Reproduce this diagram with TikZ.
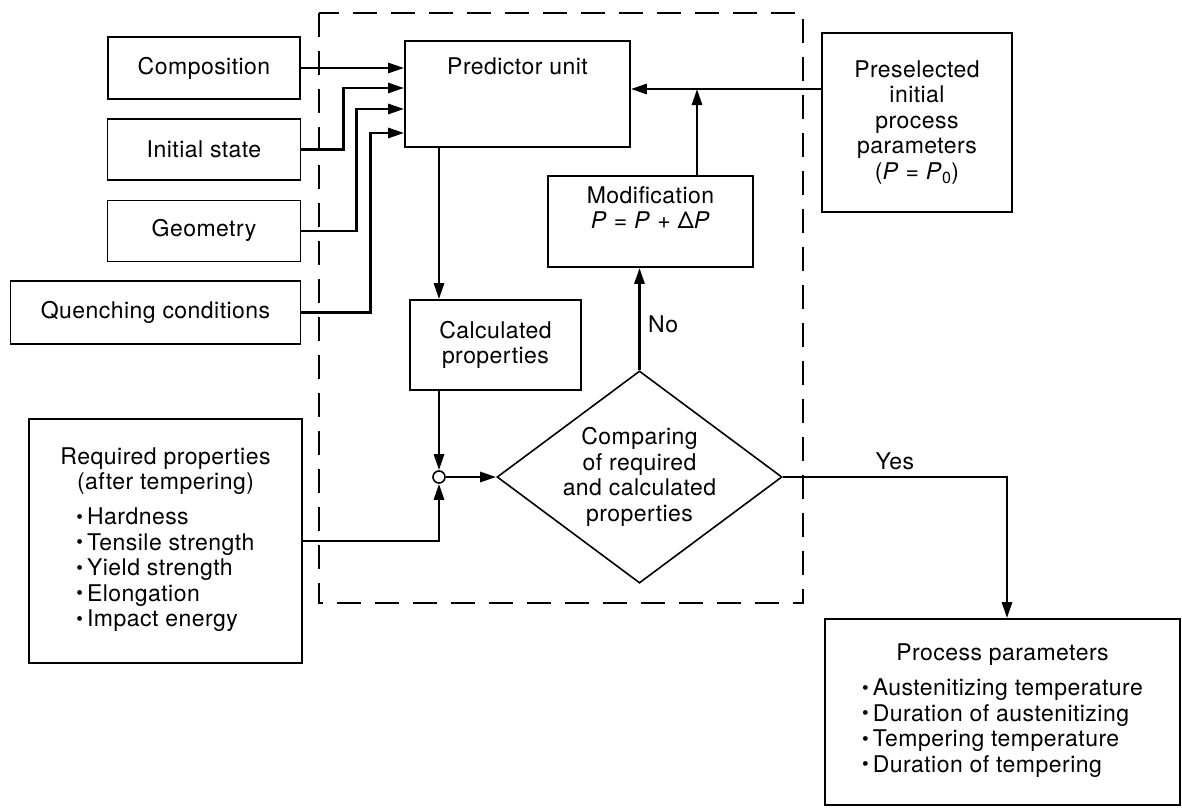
\documentclass[tikz,border=0pt]{standalone}
\usepackage{fontspec}
\setmainfont{TeX Gyre Heros}[LetterSpace=2]
\usetikzlibrary{shapes.geometric,arrows.meta,positioning}

\newcommand{\itm}{\raisebox{1.5pt}{\fontsize{19}{19}\selectfont\textbullet}\hspace{4pt}}

\begin{document}
\begin{tikzpicture}[x=1pt,y=-1pt,>={Triangle[length=16pt,width=10pt]}]
	\tikzstyle{every node}=[font=\fontsize{23}{25.5}\selectfont]
	\tikzstyle{box}=[draw,line width=1.7pt,align=center]
	\tikzstyle{flow}=[->,line width=2.8pt]
	\useasboundingbox (0,0) rectangle (1182,808);
	% the predictor loop
	\draw[line width=1.6pt,dash pattern=on 24pt off 14pt] (319,13) rectangle (803,603);
	% input data
	\node[box,minimum width=192pt,minimum height=62pt] (comp) at (204,68) {Composition};
	\node[box,minimum width=193pt,minimum height=61pt,below=18pt of comp] (init) {Initial state};
	\node[box,minimum width=193pt,minimum height=61pt,below=19pt of init] (geom) {Geometry};
	\node[box,minimum width=290pt,minimum height=63pt,below=18pt of geom.south east,anchor=north east] (quench) {Quenching conditions};
	\node[box,minimum width=273pt,minimum height=244pt] (req) at (165.5,541) {Required properties\\(after tempering)\\[11pt]
		\begin{tabular}{@{}l@{}}\itm Hardness\\\itm Tensile strength\\\itm Yield strength\\\itm Elongation\\\itm Impact energy\end{tabular}};
	% calculation
	\node[box,minimum width=225pt,minimum height=106pt,label={[anchor=north,yshift=-14pt]north:Predictor unit}] (pred) at (517.5,94) {};
	\node[box,minimum width=171pt,minimum height=90pt] (calc) at (495.5,345) {Calculated\\properties};
	\node[circle,draw,line width=1.6pt,fill=white,minimum size=12pt,inner sep=0pt] (jn) at (439,477) {};
	\node[diamond,draw,line width=1.6pt,align=center,inner sep=-10pt,minimum width=285pt,minimum height=202pt] (cmp) at (639.5,477) {Comparing\\of required\\and calculated\\properties};
	\node[box,minimum width=205pt,minimum height=91pt,text depth=28pt] (mod) at (650.5,221.5) {Modification\\\textit{P} = \textit{P} + Δ\textit{P}};
	\node[box,minimum width=190pt,minimum height=179pt] (pre) at (917,122.5) {Preselected\\initial\\process\\parameters\\(\textit{P} = \textit{P}\textsubscript{0})};
	% result
	\node[box,minimum width=355pt,minimum height=186pt] (proc) at (1002.5,712) {Process parameters\\[11pt]
		\begin{tabular}{@{}l@{}}\itm Austenitizing temperature\\\itm Duration of austenitizing\\\itm Tempering temperature\\\itm Duration of tempering\end{tabular}};
	\coordinate (mj) at (697,89);
	% connections
	\draw[flow] (comp.east) -- (comp.east -| pred.west);
	\draw[flow] (init.east) -- ++(42,0) |- ([yshift=6pt]pred.west);
	\draw[flow] (geom.east) -- ++(55.5,0) |- ([yshift=-15pt]pred.west);
	\draw[flow] (quench.east) -- ++(69,0) |- ([yshift=-39pt]pred.west);
	\draw[flow] (pred.south -| jn) -- (calc.north -| jn);
	\draw[flow] (calc.south -| jn) -- (jn.north);
	\draw[flow] (req.east) -| (jn.south);
	\draw[flow] (jn.east) -- (cmp.west);
	\draw[flow] (cmp.north) -- (cmp.north |- mod.south) node[pos=0.45,right=4pt] {No};
	\draw[flow] (mod.north -| mj) -- (mj);
	\draw[flow] (pre.west |- mj) -- (pred.east |- mj);
	\draw[flow] (cmp.east) -| ([xshift=4.5pt]proc.north) node[pos=0.25,above=2pt] {Yes};
\end{tikzpicture}
\end{document}
